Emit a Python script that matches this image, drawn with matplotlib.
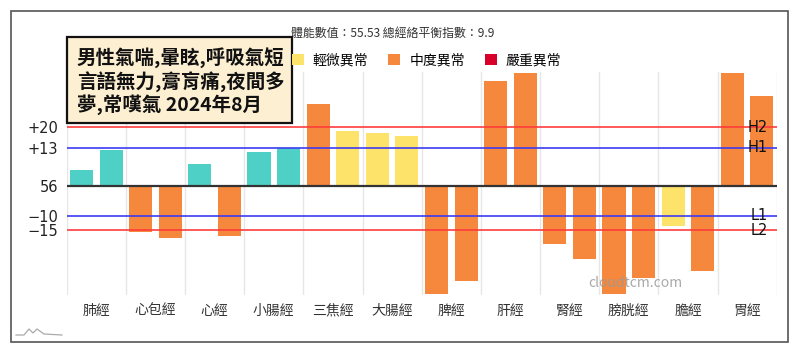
import matplotlib
matplotlib.use("Agg")
import matplotlib.pyplot as plt
from matplotlib.patches import Rectangle, Patch
from matplotlib.lines import Line2D
import numpy as np

plt.rcParams['font.family'] = ['Noto Sans CJK TC', 'DejaVu Sans']

# ---- data ----
meridians = ["肺經", "心包經", "心經", "小腸經", "三焦經", "大腸經",
             "脾經", "肝經", "腎經", "膀胱經", "膽經", "胃經"]
left_vals = [5.4, -15.7, 7.6, 11.6, 27.7, 17.9, -36.7, 35.7, -19.8, -36.7, -13.5, 38.2]
right_vals = [12.4, -17.7, -16.9, 12.8, 18.6, 16.9, -32.1, 38.2, -24.8, -31.3, -28.8, 30.5]
left_level = ["正常", "中度", "正常", "正常", "中度", "輕微",
              "中度", "中度", "中度", "中度", "輕微", "中度"]
right_level = ["正常", "中度", "中度", "正常", "輕微", "輕微",
               "中度", "中度", "中度", "中度", "中度", "中度"]
legend_labels = ["輕微異常", "中度異常", "嚴重異常"]

ref_names = ["H2", "H1", "L1", "L2"]
ref_vals = [20, 13, -10, -15]
ytick_vals = [20, 13, 0, -10, -15]
ytick_labels = ["+20", "+13", "56", "−10", "−15"]

title_txt = "體能數值：55.53 總經絡平衡指數：9.9"
note_txt = "男性氣喘,暈眩,呼吸氣短\n言語無力,膏肓痛,夜間多\n夢,常嘆氣 2024年8月"

# ---- styles ----
level_colors = {"正常": "#4fd0c6", "輕微": "#fde36a", "中度": "#f5883c", "嚴重": "#d8002a"}
ref_colors = {"H2": "#ff3d3d", "H1": "#3c3cf2", "L1": "#3c3cf2", "L2": "#ff3d3d"}

W, H = 800, 355
fig = plt.figure(figsize=(W / 100, H / 100), dpi=100)
fig.patch.set_facecolor("white")


def px(x, y):
    """pixel (from top-left) -> figure fraction"""
    return x / W, 1 - y / H


ax = fig.add_axes([66.7 / W, 1 - 294.5 / H, 710 / W, 222.5 / H])
x = np.arange(len(meridians))
bw = 0.39
ax.bar(x - 0.25, left_vals, bw, color=[level_colors[l] for l in left_level], zorder=2)
ax.bar(x + 0.25, right_vals, bw, color=[level_colors[l] for l in right_level], zorder=2)

for xv in np.arange(-0.5, len(meridians), 1):
    ax.axvline(xv, color="#e6e6e6", lw=1, zorder=1)

for name, v in zip(ref_names, ref_vals):
    ax.axhline(v, color=ref_colors[name], lw=1.2, zorder=3)
    ax.text(11.35, v, name, ha="right", va="center", fontsize=10.5,
            color="#111", zorder=4, family="DejaVu Sans")
ax.axhline(0, color="#333333", lw=1.6, zorder=3)

ax.set_xlim(-0.5, len(meridians) - 0.5)
ax.set_ylim(-36.8, 38.7)
ax.set_xticks(x)
ax.set_xticklabels(meridians, fontsize=10, color="#333")
ax.set_yticks(ytick_vals)
ax.set_yticklabels(ytick_labels, fontsize=10.5, color="#222", family="DejaVu Sans")
ax.tick_params(axis="x", length=0, pad=7)
ax.tick_params(axis="y", length=0, pad=6)
for s in ax.spines.values():
    s.set_visible(False)

# title + legend
fig.text(*px(290.7, 33.3), title_txt, fontsize=8.6, color="#333", va="center", ha="left")
handles = [Patch(facecolor=level_colors[k], edgecolor="none") for k in ["輕微", "中度", "嚴重"]]
fig.legend(handles, legend_labels, loc="center left", bbox_to_anchor=px(285, 60),
           ncol=3, frameon=False, fontsize=10, borderpad=0, handlelength=0.85,
           handleheight=0.85, handletextpad=0.65, columnspacing=1.45)

# annotation box
bx0, by0 = px(66.7, 123.3)
fig.add_artist(Rectangle((bx0, by0), (292.3 - 66.7) / W, (123.3 - 37.3) / H,
                         transform=fig.transFigure, facecolor="#fcefd2",
                         edgecolor="#111", lw=1.6, zorder=5))
fig.text(*px(76.7, 81), note_txt, fontsize=14, fontweight="bold", color="#111",
         va="center", ha="left", linespacing=1.15, zorder=6)

# watermark
fig.text(*px(588, 283), "cloudtcm.com", fontsize=10, color="#9a9a9a", alpha=0.85,
         va="center", ha="left", zorder=7)

# small logo bottom-left
lx = [16, 24, 29, 33, 37, 44, 62]
ly = [335, 335, 329, 333, 329, 334, 335]
fig.add_artist(Line2D([a / W for a in lx], [1 - b / H for b in ly],
                      transform=fig.transFigure, color="#aaaaaa", lw=0.9))

# outer frame
fx0, fy0 = px(11, 342)
fig.add_artist(Rectangle((fx0, fy0), 777 / W, 331 / H, transform=fig.transFigure,
                         fill=False, edgecolor="#555", lw=1.2, zorder=8))

fig.savefig("out.png", dpi=100)
